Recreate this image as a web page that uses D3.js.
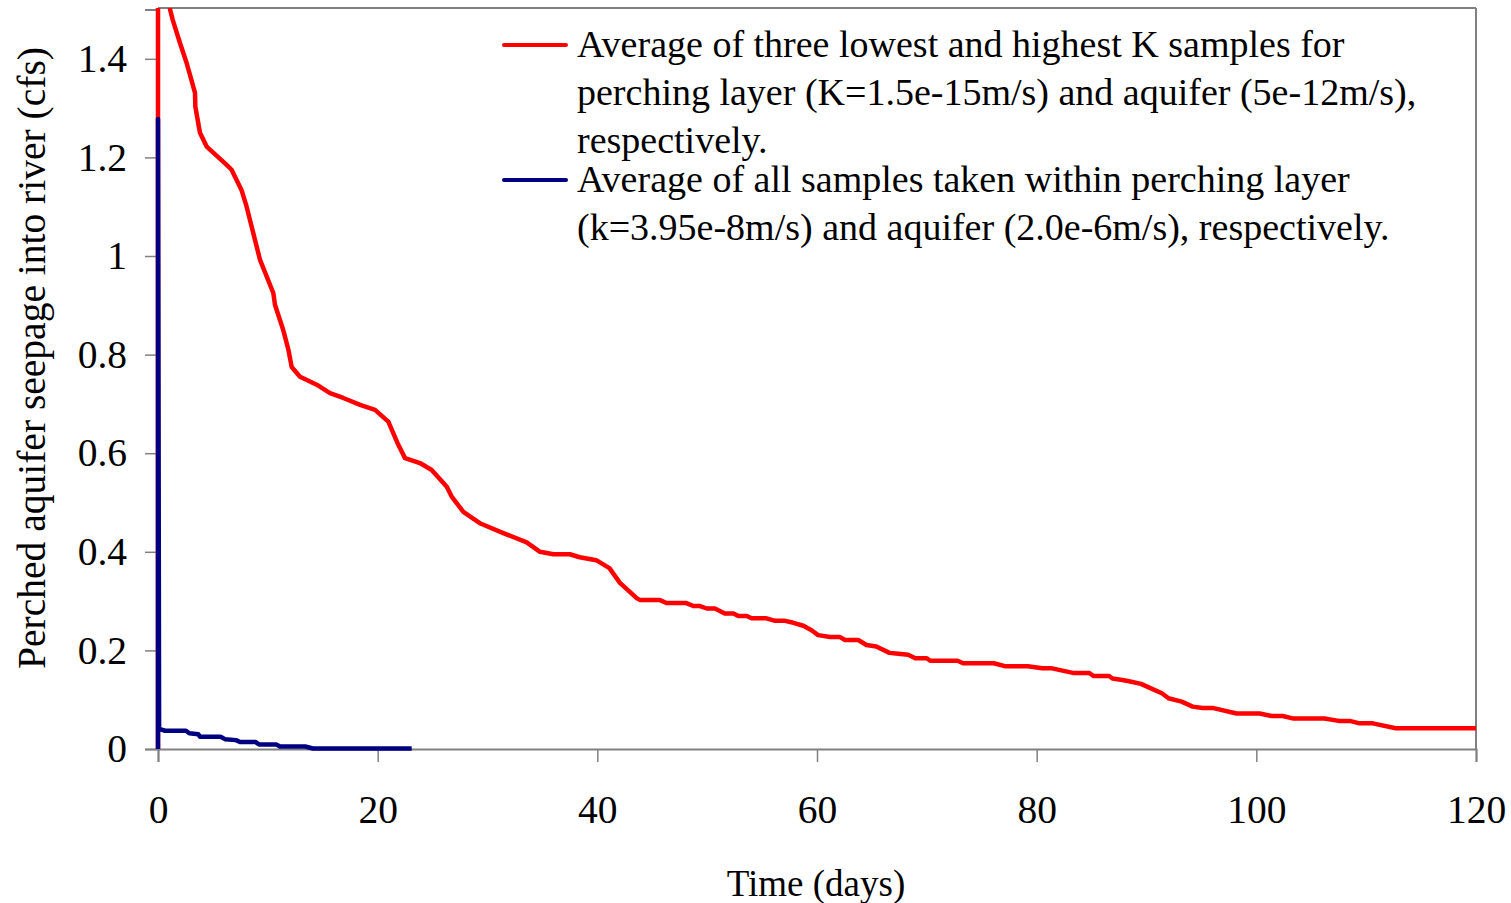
<!DOCTYPE html>
<html>
<head>
<meta charset="utf-8">
<script src="https://cdn.jsdelivr.net/npm/d3@7"></script>
<style>
  html, body { margin: 0; padding: 0; background: #ffffff; }
  svg { display: block; }
  text { font-family: "Liberation Serif", "Times New Roman", serif; fill: #000; }
</style>
</head>
<body>
<svg id="chart" width="1511" height="903"></svg>
<script>
// Seepage from the perched aquifer into the river (cfs) over time (days)
const xTicks = [0, 20, 40, 60, 80, 100, 120];
const yTicks = [0, 0.2, 0.4, 0.6, 0.8, 1, 1.2, 1.4];

// Low/high K case: perching layer K=1.5e-15 m/s, aquifer 5e-12 m/s
const lowHighDays = [0, 0, 1.0, 1.1, 1.34, 2.0, 2.6, 3.37, 3.4, 3.82, 4.43, 6.25, 6.7, 7.6, 8.07, 9.29, 10.5, 10.65, 11.4, 11.87,
  12.17, 12.93, 14.45, 15.66, 16.87, 18.4, 19.76, 20.97, 21.88, 22.49, 23.85, 24.92, 26.29, 26.74, 27.8, 29.3, 31.44, 33.57, 34.78, 36.0,
  37.5, 38.4, 39.9, 41.1, 42.06, 43.58, 43.9, 45.7, 46.3, 48.1, 48.74, 49.35, 49.96, 50.7, 51.6, 52.4, 52.84, 53.6, 54.05, 55.4,
  56.2, 57.1, 57.85, 58.76, 59.5, 60.1, 61.2, 62.1, 62.55, 63.76, 64.5, 65.4, 66.6, 67.4, 68.3, 68.95, 70.0, 70.3, 72.8, 73.3,
  76.1, 77.1, 79.2, 80.5, 81.3, 83.4, 84.8, 85.2, 86.6, 86.9, 87.8, 88.3, 89.5, 90.6, 91.4, 92.0, 93.2, 94.2, 95.1, 96.1,
  98.2, 100.3, 101.4, 102.4, 103.3, 106.2, 107.5, 108.5, 109.4, 110.6, 112.7, 120];
const lowHighFlow = [0, 1.9, 1.53, 1.50, 1.479, 1.432, 1.392, 1.331, 1.303, 1.250, 1.222, 1.185, 1.175, 1.134, 1.100, 0.992, 0.925, 0.901, 0.850, 0.810,
  0.775, 0.755, 0.739, 0.722, 0.712, 0.698, 0.688, 0.664, 0.617, 0.590, 0.580, 0.566, 0.532, 0.512, 0.481, 0.458, 0.438, 0.419, 0.400, 0.395,
  0.395, 0.389, 0.383, 0.367, 0.337, 0.306, 0.302, 0.302, 0.296, 0.296, 0.290, 0.290, 0.285, 0.285, 0.275, 0.275, 0.270, 0.270, 0.265, 0.265,
  0.260, 0.260, 0.256, 0.250, 0.241, 0.231, 0.227, 0.227, 0.221, 0.221, 0.211, 0.208, 0.195, 0.193, 0.191, 0.184, 0.184, 0.179, 0.179, 0.174,
  0.174, 0.168, 0.168, 0.164, 0.164, 0.154, 0.154, 0.148, 0.148, 0.143, 0.140, 0.138, 0.132, 0.121, 0.113, 0.103, 0.096, 0.086, 0.083, 0.083,
  0.072, 0.072, 0.067, 0.067, 0.062, 0.062, 0.057, 0.057, 0.052, 0.052, 0.042, 0.042];

// All-samples case: perching layer k=3.95e-8 m/s, aquifer 2.0e-6 m/s
const allDays = [0, 0, 0.1, 0.64, 2.55, 2.85, 3.67, 3.82, 5.7, 6.1, 7.1, 7.47, 8.9, 9.2, 10.8, 11.1, 13.4, 14.1, 23.1];
const allFlow = [0, 1.278, 0.041, 0.037, 0.037, 0.032, 0.030, 0.025, 0.025, 0.020, 0.018, 0.014, 0.014, 0.009, 0.009, 0.005, 0.005, 0.001, 0.001];

const legendLines = [
  ["Average of three lowest and highest K samples for",
   "perching layer (K=1.5e-15m/s) and aquifer (5e-12m/s),",
   "respectively."],
  ["Average of all samples taken within perching layer",
   "(k=3.95e-8m/s) and aquifer (2.0e-6m/s), respectively."]
];
const seriesColors = ["#ff0000", "#000080"];

const svg = d3.select("#chart");
const plotLeft = 158, plotRight = 1476, plotTop = 9.5, plotBottom = 749;

const x = d3.scaleLinear().domain([0, 120]).range([plotLeft, plotRight]);
const y = d3.scaleLinear().domain([0, 1.5]).range([plotBottom, plotTop]);

svg.append("rect").attr("width", 1511).attr("height", 903).attr("fill", "#fff");

svg.append("defs").append("clipPath").attr("id", "plotClip")
  .append("rect").attr("x", plotLeft - 3).attr("y", 8)
  .attr("width", plotRight - plotLeft + 6).attr("height", plotBottom - 8 + 3);

// frame: top and right edges
svg.append("line").attr("x1", plotLeft).attr("x2", plotRight).attr("y1", 8).attr("y2", 8)
  .attr("stroke", "#808080").attr("stroke-width", 2);
svg.append("line").attr("x1", plotRight).attr("x2", plotRight).attr("y1", 8).attr("y2", plotBottom)
  .attr("stroke", "#808080").attr("stroke-width", 2);

const tickFont = 39.5;

// x axis
const xAxis = svg.append("g").attr("transform", `translate(0,${plotBottom})`)
  .call(d3.axisBottom(x).tickValues(xTicks).tickSize(13).tickPadding(33).tickFormat(d3.format("d")));
// y axis
const yAxis = svg.append("g").attr("transform", `translate(${plotLeft},0)`)
  .call(d3.axisLeft(y).tickValues(yTicks).tickSize(13).tickPadding(18).tickFormat(d => String(d)));

[xAxis, yAxis].forEach(g => {
  g.select(".domain").attr("stroke", "#808080").attr("stroke-width", 2);
  g.selectAll(".tick line").attr("stroke", "#808080").attr("stroke-width", 1.5);
  g.selectAll(".tick text").attr("font-family", "Liberation Serif, Times New Roman, serif")
    .attr("font-size", tickFont).attr("fill", "#000");
});

// axis titles
svg.append("text").attr("x", 816).attr("y", 896).attr("text-anchor", "middle")
  .attr("font-size", 37).text("Time (days)");
svg.append("text").attr("transform", "translate(45,358) rotate(-90)").attr("text-anchor", "middle")
  .attr("font-size", 39.5).text("Perched aquifer seepage into river (cfs)");

// data series
const line = d3.line().x(d => x(d[0])).y(d => y(d[1]));
const plot = svg.append("g").attr("clip-path", "url(#plotClip)");
const lowHigh = lowHighDays.map((d, i) => [d, lowHighFlow[i]]);
const all = allDays.map((d, i) => [d, allFlow[i]]);
plot.append("path").datum(lowHigh).attr("d", line).attr("fill", "none")
  .attr("stroke", seriesColors[0]).attr("stroke-width", 4.5).attr("stroke-linejoin", "round");
plot.append("path").datum(all).attr("d", line).attr("fill", "none")
  .attr("stroke", seriesColors[1]).attr("stroke-width", 4.5).attr("stroke-linejoin", "round");

// legend
const legend = svg.append("g");
const entryTop = [45, 180];
legendLines.forEach((lines, i) => {
  legend.append("line").attr("x1", 504).attr("x2", 566).attr("y1", entryTop[i]).attr("y2", entryTop[i])
    .attr("stroke", seriesColors[i]).attr("stroke-width", 4).attr("stroke-linecap", "round");
  lines.forEach((t, j) => {
    legend.append("text").attr("x", 577).attr("y", entryTop[i] + 12 + j * 48)
      .attr("font-size", 38).text(t);
  });
});
</script>
</body>
</html>
